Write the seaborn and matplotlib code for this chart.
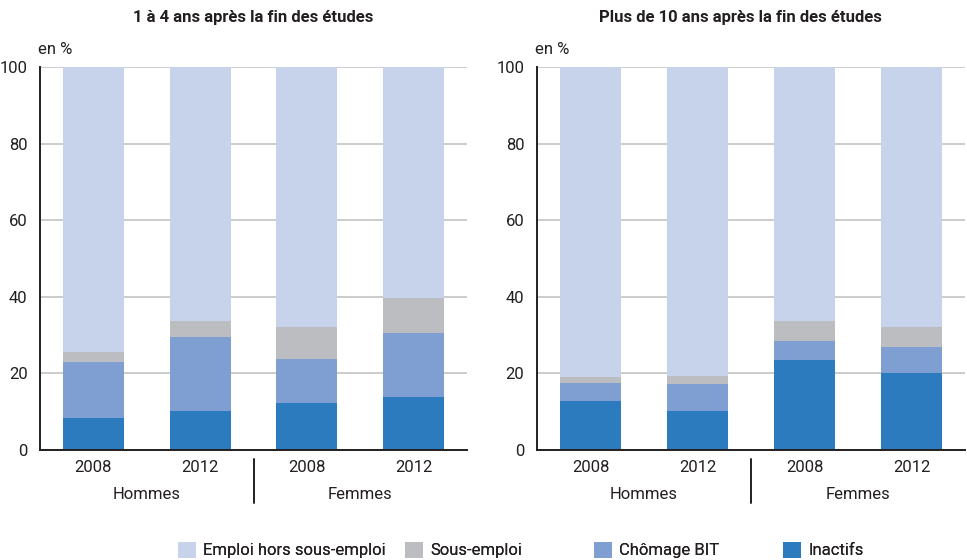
import pandas as pd
import matplotlib
matplotlib.use("Agg")
import matplotlib.pyplot as plt
import matplotlib.transforms as mtransforms
from matplotlib.patches import Patch
import seaborn as sns

# bars, left to right: Hommes 2008, Hommes 2012, Femmes 2008, Femmes 2012
BAR_KEYS = ["H2008", "H2012", "F2008", "F2012"]
YEAR_LABELS = ["2008", "2012", "2008", "2012"]
GROUPS = ["Hommes", "Femmes"]
PANEL_TITLES = ["1 à 4 ans après la fin des études",
                "Plus de 10 ans après la fin des études"]

SERIES = ["Emploi hors sous-emploi", "Sous-emploi", "Chômage BIT", "Inactifs"]
COLORS = {
    "Emploi hors sous-emploi": "#c6d3ea",
    "Sous-emploi": "#bcbdc1",
    "Chômage BIT": "#7f9fd3",
    "Inactifs": "#2c7bbf",
}

# 1 à 4 ans après la fin des études (en %)
emploi_court = [74.3, 66.2, 68.0, 60.2]
sous_emploi_court = [2.6, 4.2, 8.2, 9.2]
chomage_court = [14.7, 19.3, 11.4, 16.8]
inactifs_court = [8.4, 10.3, 12.4, 13.8]

# plus de 10 ans après la fin des études (en %)
emploi_long = [81.0, 80.7, 66.2, 67.8]
sous_emploi_long = [1.5, 2.1, 5.3, 5.3]
chomage_long = [4.7, 6.9, 4.9, 6.7]
inactifs_long = [12.8, 10.3, 23.6, 20.2]

TEXT = "#231f20"


def make_frame(emploi, sous, chom, inact):
    df = pd.DataFrame({
        "bar": BAR_KEYS,
        "Emploi hors sous-emploi": emploi,
        "Sous-emploi": sous,
        "Chômage BIT": chom,
        "Inactifs": inact,
    })
    # cumulative tops, bottom segment = Inactifs
    cum = df[SERIES[::-1]].cumsum(axis=1)
    cum["bar"] = df["bar"]
    return cum


def draw_panel(ax, cum, title, title_x):
    # tallest first, then overlay the shorter cumulative stacks
    for name in SERIES:
        sns.barplot(data=cum, x="bar", y=name, order=BAR_KEYS, color=COLORS[name],
                    saturation=1, width=0.57, linewidth=0, ax=ax)

    ax.set_xlim(-0.5, 3.5)
    ax.set_ylim(0, 100)
    ax.set_yticks(range(0, 101, 20))
    ax.set_xticks(range(4))
    ax.set_xticklabels(YEAR_LABELS)
    ax.set_xlabel("")
    ax.set_ylabel("")
    ax.tick_params(axis="both", length=0, labelsize=12, colors=TEXT)
    ax.tick_params(axis="x", pad=7)
    ax.tick_params(axis="y", pad=9)

    ax.grid(axis="y", color="#c8c8c8", linewidth=1.3)
    ax.grid(axis="x", visible=False)
    ax.set_axisbelow(True)
    for side in ["top", "right"]:
        ax.spines[side].set_visible(False)
    for side in ["left", "bottom"]:
        ax.spines[side].set_visible(True)
        ax.spines[side].set_color(TEXT)
        ax.spines[side].set_linewidth(1.4)

    trans = mtransforms.blended_transform_factory(ax.transData, ax.transAxes)
    ax.text(0.5, -0.115, GROUPS[0], transform=trans, ha="center", va="center",
            fontsize=12, color=TEXT)
    ax.text(2.5, -0.115, GROUPS[1], transform=trans, ha="center", va="center",
            fontsize=12, color=TEXT)
    ax.plot([1.5, 1.5], [-0.024, -0.138], transform=trans, color=TEXT,
            linewidth=1.4, clip_on=False)

    ax.text(-0.005, 1.045, "en %", transform=ax.transAxes, ha="left", va="center",
            fontsize=12, color=TEXT)
    ax.figure.text(title_x, 0.968, title, ha="center", va="center",
                   fontsize=12, fontweight="bold", color=TEXT)


def main():
    sns.set_theme(style="white")
    plt.rcParams["font.family"] = ["Roboto", "DejaVu Sans"]

    fig = plt.figure(figsize=(9.67, 5.6), dpi=100)
    ax1 = fig.add_axes([40 / 967, 110 / 560, 427 / 967, 383 / 560])
    ax2 = fig.add_axes([537 / 967, 110 / 560, 428 / 967, 383 / 560])

    draw_panel(ax1, make_frame(emploi_court, sous_emploi_court, chomage_court, inactifs_court),
               PANEL_TITLES[0], 253 / 967)
    draw_panel(ax2, make_frame(emploi_long, sous_emploi_long, chomage_long, inactifs_long),
               PANEL_TITLES[1], 740 / 967)

    # one small legend per entry so the swatches sit where the reference has them
    legend_x = [178, 405, 594, 783]
    for name, px in zip(SERIES, legend_x):
        leg = fig.legend(handles=[Patch(facecolor=COLORS[name], edgecolor="none", label=name)],
                         loc="center left", bbox_to_anchor=(px / 967, 10 / 560),
                         frameon=False, fontsize=12, handlelength=1.1, handleheight=1.1,
                         handletextpad=0.4, borderpad=0, borderaxespad=0,
                         labelcolor=TEXT)
        fig.add_artist(leg)

    fig.savefig("out.png", dpi=100)


if __name__ == "__main__":
    main()
